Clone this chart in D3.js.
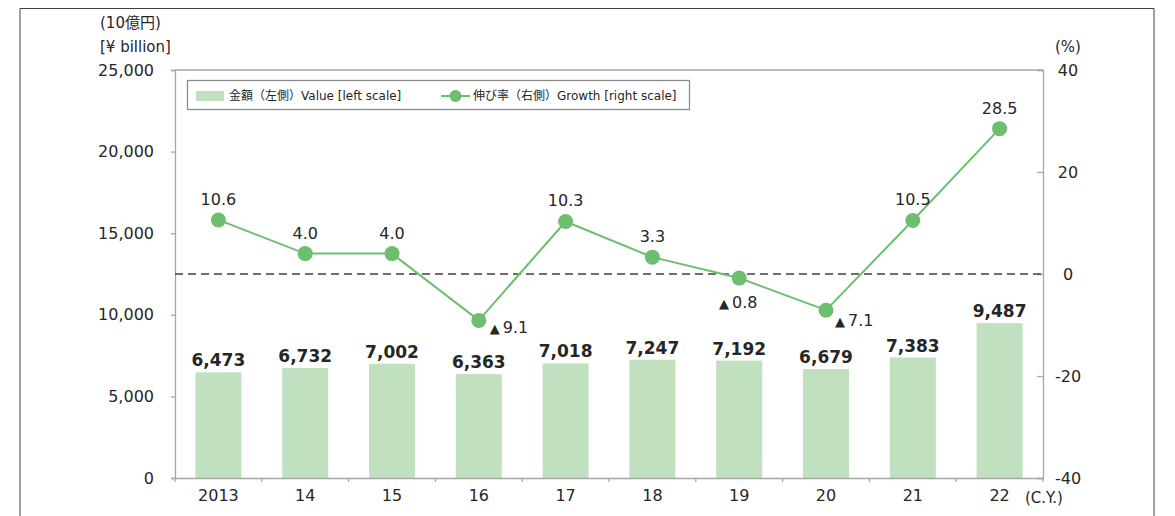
<!DOCTYPE html>
<html><head><meta charset="utf-8">
<script src="https://cdn.jsdelivr.net/npm/d3@7"></script>
<style>
body{margin:0;background:#fff;}
svg{display:block;font-family:"DejaVu Sans","Noto Sans CJK JP",sans-serif;}
</style></head>
<body>
<svg id="chart" width="1175" height="516"></svg>
<script>
const categories = ["2013","14","15","16","17","18","19","20","21","22"];
const values = [6473, 6732, 7002, 6363, 7018, 7247, 7192, 6679, 7383, 9487];
const growth = [10.6, 4.0, 4.0, -9.1, 10.3, 3.3, -0.8, -7.1, 10.5, 28.5];
const leftTicks = [0, 5000, 10000, 15000, 20000, 25000];
const rightTicks = [-40, -20, 0, 20, 40];

const svg = d3.select("#chart");
const L = 175, R = 1043, T = 70, B = 478;
const txt = "#262626";

// outer frame
svg.append("path").attr("d", `M20,516V8.5H1154V516`).attr("fill","none").attr("stroke","#404040").attr("stroke-width",1);

const x = d3.scaleBand().domain(categories).range([L, R]).paddingInner(0.47).paddingOuter(0.235);
const xb = d3.scaleBand().domain(categories).range([L, R]);
const yL = d3.scaleLinear().domain([0, 25000]).range([B, T]);
const yR = d3.scaleLinear().domain([-40, 40]).range([B, T]);

// plot border top
svg.append("line").attr("x1",L).attr("x2",R).attr("y1",T).attr("y2",T).attr("stroke","#a6a6a6").attr("stroke-width",1.3);

// bars
svg.selectAll("rect.bar").data(values).join("rect").attr("class","bar")
  .attr("x",(d,i)=>x(categories[i])).attr("width",x.bandwidth())
  .attr("y",d=>yL(d)).attr("height",d=>B-yL(d)).attr("fill","#c0e0c0");

// left axis
const axL = svg.append("g").attr("transform",`translate(${L},0)`)
  .call(d3.axisLeft(yL).tickValues(leftTicks).tickSize(4).tickPadding(17).tickFormat(d3.format(",")));
axL.select(".domain").attr("stroke","#a6a6a6").attr("stroke-width",1.3);
axL.selectAll(".tick line").attr("stroke","#a6a6a6").attr("stroke-width",1.3);
axL.selectAll("text").attr("font-size",16).attr("fill",txt).attr("font-family","DejaVu Sans");

// right axis
const axR = svg.append("g").attr("transform",`translate(${R},0)`)
  .call(d3.axisRight(yR).tickValues(rightTicks).tickSize(-6).tickPadding(0).tickFormat(d=>d));
axR.select(".domain").attr("stroke","#a6a6a6").attr("stroke-width",1.3);
axR.selectAll(".tick line").attr("stroke","#a6a6a6").attr("stroke-width",1.3);
axR.selectAll("text").attr("x",25).attr("text-anchor","middle").attr("font-size",16).attr("fill",txt).attr("font-family","DejaVu Sans");

// bottom axis
const axB = svg.append("g").attr("transform",`translate(0,${B})`)
  .call(d3.axisBottom(xb).tickSize(0).tickPadding(12));
axB.select(".domain").attr("stroke","#a6a6a6").attr("stroke-width",1.3);
axB.selectAll("text").attr("font-size",16).attr("fill",txt).attr("font-family","DejaVu Sans");
svg.append("g").selectAll("line").data(d3.range(categories.length+1)).join("line")
  .attr("x1",i=>L+i*xb.step()).attr("x2",i=>L+i*xb.step()).attr("y1",B).attr("y2",B+4)
  .attr("stroke","#a6a6a6").attr("stroke-width",1.3);

// zero dashed line
svg.append("line").attr("x1",L).attr("x2",R).attr("y1",yR(0)).attr("y2",yR(0))
  .attr("stroke","#404040").attr("stroke-width",1.5).attr("stroke-dasharray","8,5");

// line
const cx = i => xb(categories[i]) + xb.bandwidth()/2;
const lineColor = "#6bbf6e";
svg.append("path").datum(growth)
  .attr("d", d3.line().x((d,i)=>cx(i)).y(d=>yR(d)))
  .attr("fill","none").attr("stroke",lineColor).attr("stroke-width",2);
svg.selectAll("circle.pt").data(growth).join("circle").attr("class","pt")
  .attr("cx",(d,i)=>cx(i)).attr("cy",d=>yR(d)).attr("r",7.5).attr("fill",lineColor);

// bar labels
svg.selectAll("text.bl").data(values).join("text").attr("class","bl")
  .attr("x",(d,i)=>cx(i)).attr("y",d=>yL(d)-6).attr("text-anchor","middle")
  .attr("font-size",17).attr("font-weight","bold").attr("fill",txt).attr("font-family","DejaVu Sans")
  .text(d=>d3.format(",")(d));

// growth labels
svg.selectAll("text.gl").data(growth).join("text").attr("class","gl")
  .attr("font-size",16).attr("fill",txt).attr("font-family","DejaVu Sans")
  .each(function(d,i){
    const t = d3.select(this);
    const px = cx(i), py = yR(d);
    if (d >= 0) {
      t.attr("x",px).attr("y",py-15).attr("text-anchor","middle").text(d.toFixed(1));
    } else {
      if (Math.abs(d) < 2) { t.attr("x",px-1).attr("y",py+30).attr("text-anchor","middle"); }
      else if (i === 3) { t.attr("x",px+11).attr("y",py+13).attr("text-anchor","start"); }
      else { t.attr("x",px+9).attr("y",py+16).attr("text-anchor","start"); }
      t.append("tspan").attr("font-size",13).text("▲");
      t.append("tspan").attr("dx",3).text(Math.abs(d).toFixed(1));
    }
  });

// legend
svg.append("rect").attr("x",187.5).attr("y",80.5).attr("width",502).attr("height",29)
  .attr("fill","#fff").attr("stroke","#8c8c8c").attr("stroke-width",1.3);
svg.append("rect").attr("x",196).attr("y",91).attr("width",28).attr("height",10).attr("fill","#c0e0c0");
svg.append("text").attr("x",229).attr("y",100).attr("font-size",12).attr("fill",txt)
  .text("金額（左側）Value [left scale]");
svg.append("line").attr("x1",441).attr("x2",470).attr("y1",96).attr("y2",96).attr("stroke",lineColor).attr("stroke-width",2);
svg.append("circle").attr("cx",455.5).attr("cy",96).attr("r",6).attr("fill",lineColor);
svg.append("text").attr("x",473).attr("y",100).attr("font-size",12).attr("fill",txt)
  .text("伸び率（右側）Growth [right scale]");

// axis titles
svg.append("text").attr("x",100).attr("y",28).attr("font-size",15).attr("fill",txt).text("(10億円)");
svg.append("text").attr("x",100).attr("y",52).attr("font-size",15).attr("fill",txt).text("[¥ billion]");
svg.append("text").attr("x",1068).attr("y",52).attr("text-anchor","middle").attr("font-size",15).attr("fill",txt).text("(%)");
svg.append("text").attr("x",1025).attr("y",503).attr("font-size",15).attr("fill",txt).text("(C.Y.)");
</script>
</body></html>
